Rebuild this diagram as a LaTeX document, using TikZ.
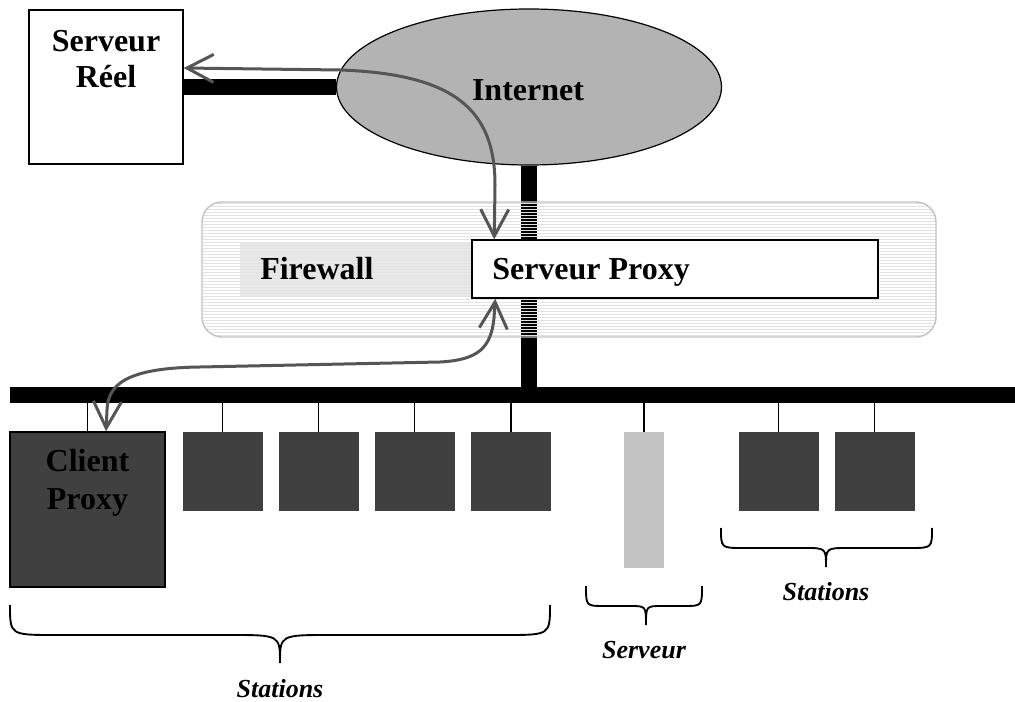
\documentclass[tikz,border=0pt]{standalone}
\usepackage{fontspec}
\setmainfont{Liberation Serif}
\usetikzlibrary{arrows.meta,shapes.geometric,calc}
\definecolor{arrowgray}{HTML}{555555}
\definecolor{stationgray}{HTML}{404040}
\definecolor{inetgray}{HTML}{B3B3B3}
\definecolor{srvgray}{HTML}{C4C4C4}
\definecolor{fwborder}{HTML}{C4C4C4}
\definecolor{fwstripecol}{HTML}{E2E2E2}
\definecolor{shadecol}{HTML}{E8E8E8}
\newcommand{\bracepath}[8]{%
  \draw[bracesty] (#1,#4) .. controls (#1,#5) and (#1,#5) .. ({#1+#7},#5)
    -- ({#3-#8},#5) .. controls (#3,#5) and (#3,#5) .. (#3,#6)
    .. controls (#3,#5) and (#3,#5) .. ({#3+#8},#5)
    -- ({#2-#7},#5) .. controls (#2,#5) and (#2,#5) .. (#2,#4);}
\begin{document}
\begin{tikzpicture}[x=0.75pt,y=-0.75pt,
  btext/.style={font=\fontsize{24}{28}\selectfont\bfseries, inner sep=0pt},
  itext/.style={font=\fontsize{19.5}{23}\selectfont\bfseries\itshape, inner sep=0pt},
  boxsty/.style={draw=black, line width=1.1pt, fill=white, inner sep=0pt},
  inetsty/.style={ellipse, draw=black, line width=0.9pt, fill=inetgray, inner sep=0pt,
    minimum width=288.75pt, minimum height=117pt},
  barsty/.style={line width=12pt, draw=black},
  bussty/.style={fill=black, inner sep=0pt, minimum width=753.75pt, minimum height=12pt},
  stationsty/.style={fill=stationgray, draw=stationgray, line width=0.5pt, inner sep=0pt,
    minimum width=59.25pt, minimum height=58.5pt},
  dropsty/.style={draw=black, line width=0.8pt},
  bracesty/.style={draw=black, line width=1.4pt},
  garrow/.style={draw=arrowgray, line width=2.25pt,
    {Straight Barb[length=20pt,width=21pt]}-{Straight Barb[length=20pt,width=21pt]}},
  fwstripe/.style={draw=fwstripecol, line width=1.1pt},
  fwsty/.style={draw=fwborder, line width=1.1pt, rounded corners=15pt, inner sep=0pt,
    minimum width=550.5pt, minimum height=101.25pt,
    path picture={\foreach \i in {1,...,45}{%
      \draw[fwstripe] ([yshift={-\i*2.25pt+1.1pt}]path picture bounding box.north west)
        -- ([yshift={-\i*2.25pt+1.1pt}]path picture bounding box.north east);}}},
  shadesty/.style={fill=shadecol, inner sep=0pt, minimum width=174pt, minimum height=40.5pt}
]
\fill[white] (0,0) rectangle (1015,702);
\useasboundingbox (0,0) rectangle (1015,702);

% Serveur Reel and Internet
\node[boxsty, minimum width=115.5pt, minimum height=115.5pt] (reel) at (106,87) {};
\node[btext, anchor=base] (reeltxta) at (106,52) {Serveur};
\node[btext, anchor=base] (reeltxtb) at (106,88) {Réel};
\node[inetsty] (inet) at (529,87) {};
\node[btext, anchor=base] (inettxt) at (528,101) {Internet};

% network bus
\node[bussty] (bus) at (512.5,395) {};

% thick links
\draw[barsty] (reel.east) -- (inet.west);
\draw[barsty] (inet.south) -- (inet.south |- bus.north);

% firewall
\node[shadesty] (fwshade) at (356,270) {};
\node[fwsty] (fw) at (569,269.5) {};
\node[btext, anchor=base west] (fwtxt) at (260,280) {Firewall};
\node[boxsty, minimum width=304.5pt, minimum height=43.5pt] (proxy) at (675,269) {};
\node[btext, anchor=base west] (proxytxt) at (492,280) {Serveur Proxy};

% client proxy and stations
\node[draw=black, line width=1.1pt, fill=stationgray, inner sep=0pt,
  minimum width=116.25pt, minimum height=116.25pt] (client) at (87.5,509.5) {};
\node[btext, anchor=base, text=black] (clienttxta) at (87.5,472) {Client};
\node[btext, anchor=base, text=black] (clienttxtb) at (87.5,510) {Proxy};
\node[stationsty] (st1) at (222.5,471) {};
\node[stationsty] (st2) at (318.5,471) {};
\node[stationsty] (st3) at (414.5,471) {};
\node[stationsty] (st4) at (511,471) {};
\node[stationsty] (st5) at (778.5,471) {};
\node[stationsty] (st6) at (874.5,471) {};
\node[fill=srvgray, inner sep=0pt, minimum width=30pt, minimum height=102pt] (srv) at (644,500) {};

% drops
\foreach \n in {client,st1,st2,st3,st4,st5,st6,srv}{
  \draw[dropsty] (\n.north) -- (\n.north |- bus.south);
}

% braces
\bracepath{10}{550}{280}{605}{635}{663}{45}{50}
\bracepath{586}{702}{646}{586}{606}{625}{18}{16}
\bracepath{721}{932}{826}{528}{548}{567}{22}{22}
\node[itext, anchor=base] (stlabela) at (280,697) {Stations};
\node[itext, anchor=base] (srvlabel) at (644,658) {Serveur};
\node[itext, anchor=base] (stlabelb) at (826,600) {Stations};

% proxy arrows
\draw[garrow] ([yshift=14.25pt]reel.east) -- (340,70)
  .. controls (455,74) and (495,110) .. (495,185)
  -- ([xshift=17.25pt]proxy.north west);
\draw[garrow] ([xshift=18pt]proxy.south west) -- (494,318)
  .. controls (491,348) and (478,360) .. (440,362)
  -- (200,367) .. controls (125,368) and (108,385) .. (107,410)
  -- ([xshift=13.9pt]client.north);
\end{tikzpicture}
\end{document}
